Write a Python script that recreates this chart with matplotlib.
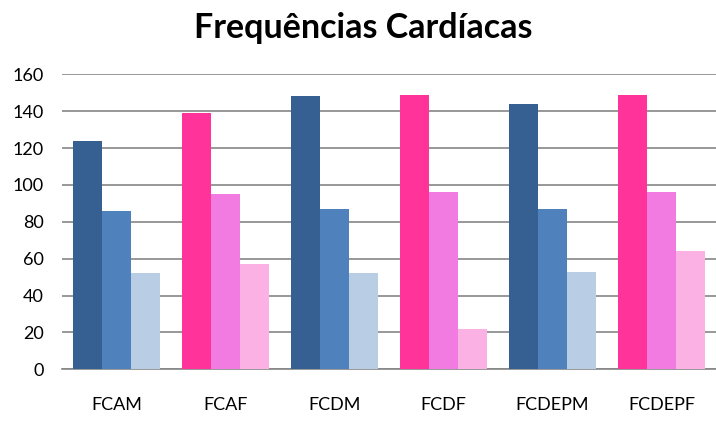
import numpy as np
from matplotlib import pyplot as plt

# dados do gráfico
categorias = ['FCAM', 'FCAF', 'FCDM', 'FCDF', 'FCDEPM', 'FCDEPF']
serie1 = [124, 139, 148, 149, 144, 149]
serie2 = [86, 95, 87, 96, 87, 96]
serie3 = [52, 57, 52, 22, 53, 64]

# cores: grupos M em azul, grupos F em rosa
azuis = ['#366092', '#4F81BD', '#B9CDE5']
rosas = ['#FF3399', '#F27BE2', '#FBB1E3']

plt.rcParams['font.family'] = ['Lato', 'DejaVu Sans']

fig = plt.figure(figsize=(7.16, 4.21), dpi=100)
ax = fig.add_axes([62 / 716, 51.7 / 421, 654 / 716, 295 / 421])

x = np.arange(len(categorias))
w = 0.8 / 3
for i, valores in enumerate([serie1, serie2, serie3]):
    cores = [azuis[i] if c.endswith('M') else rosas[i] for c in categorias]
    ax.bar(x + (i - 1) * w, valores, width=w, color=cores, zorder=3)

ax.set_xlim(-0.5, len(categorias) - 0.5)
ax.set_ylim(0, 160)
ax.set_yticks(range(0, 161, 20))
ax.set_xticks(x)
ax.set_xticklabels(categorias)
ax.tick_params(axis='y', length=0, pad=13, labelsize=13)
ax.tick_params(axis='x', length=0, pad=20, labelsize=13)
ax.grid(axis='y', color='#868686', linewidth=1.2, zorder=0)

for s in ['top', 'right', 'left']:
    ax.spines[s].set_visible(False)
ax.spines['bottom'].set_color('#868686')
ax.spines['bottom'].set_linewidth(1.2)

fig.text(0.507, 1 - 28 / 421, 'Frequências Cardíacas', ha='center', va='center',
         fontsize=24.5, fontweight='bold')

fig.savefig('out.png', dpi=100)
